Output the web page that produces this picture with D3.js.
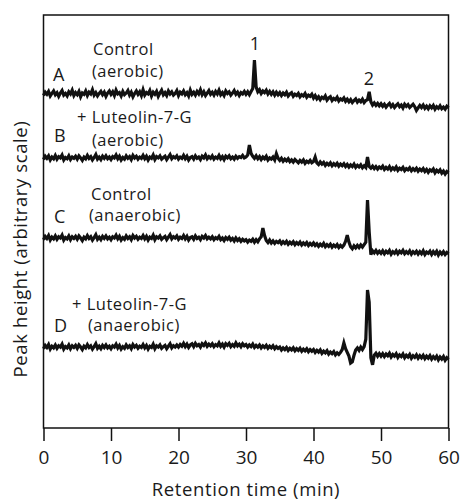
<!DOCTYPE html>
<html>
<head>
<meta charset="utf-8">
<script src="https://cdn.jsdelivr.net/npm/d3@7"></script>
<style>
body { margin: 0; background: #fff; }
text { font-family: "Open Sans", "DejaVu Sans", sans-serif; fill: #1a1a1a; }
</style>
</head>
<body>
<script>
// retention time sampled every 0.25 min, 0..60
var times = d3.range(0, 60.25, 0.25);
var xTicks = [0, 10, 20, 30, 40, 50, 60];

// peak height, arbitrary units (traces stacked), one row = 5 min
var traceA = [
  80.5, 81.3, 80.8, 81.5, 80.4, 81.0, 81.6, 80.7, 81.2, 80.3, 81.1, 81.7, 80.6, 81.0, 80.4, 81.4, 80.9, 81.8, 80.5, 81.2,
  80.7, 81.5, 80.2, 81.1, 80.8, 81.6, 80.5, 81.3, 80.9, 81.9, 80.6, 81.2, 80.4, 81.0, 81.5, 80.7, 81.3, 80.3, 81.1, 81.6,
  80.8, 81.4, 80.5, 81.8, 80.9, 81.2, 80.4, 81.5, 80.7, 81.1, 81.7, 80.6, 81.3, 80.2, 81.0, 81.6, 80.8, 81.4, 80.5, 81.9,
  80.6, 81.2, 80.9, 81.7, 80.4, 81.3, 80.8, 81.5, 80.3, 81.1, 81.8, 80.7, 81.2, 80.5, 81.6, 80.9, 81.4, 80.6, 81.0, 81.7,
  80.5, 81.3, 80.9, 81.6, 80.7, 81.2, 80.4, 81.8, 80.8, 81.3, 80.6, 81.5, 80.9, 81.9, 80.7, 81.4, 80.5, 81.1, 81.7, 80.8,
  81.3, 80.6, 81.5, 80.9, 81.8, 80.7, 81.2, 80.5, 81.6, 81.0, 81.4, 80.6, 81.1, 81.7, 80.8, 81.3, 80.5, 81.2, 80.9, 81.5,
  80.8, 81.4, 80.7, 81.5, 82.2, 89.1, 82.6, 81.4, 81.9, 81.0, 81.6, 81.2, 81.8, 80.9, 81.5, 80.8, 81.4, 80.6, 81.3, 80.7,
  81.2, 80.5, 81.1, 80.7, 81.3, 80.4, 80.9, 81.2, 80.3, 80.8, 80.5, 81.0, 80.2, 80.7, 80.4, 81.0, 80.1, 80.6, 80.3, 80.8,
  79.9, 80.5, 79.7, 80.2, 79.5, 80.1, 79.8, 80.4, 79.4, 79.9, 80.2, 79.3, 79.8, 79.5, 80.1, 79.2, 79.7, 79.4, 79.9, 79.1,
  79.6, 79.0, 79.5, 78.8, 79.3, 79.7, 78.9, 79.4, 79.0, 79.6, 78.8, 79.3, 79.5, 81.4, 79.0, 78.2, 78.7, 78.1, 78.6, 78.0,
  78.5, 77.9, 78.4, 77.7, 78.2, 78.6, 77.8, 78.3, 77.6, 78.1, 78.5, 77.8, 78.2, 77.5, 78.4, 77.9, 78.3, 77.6, 78.0, 78.4,
  77.8, 76.9, 77.5, 78.1, 77.6, 78.2, 77.4, 77.9, 77.3, 78.0, 77.5, 78.1, 77.2, 77.8, 77.4, 78.0, 77.3, 77.7, 77.2, 77.9,
  77.5
];
var traceB = [
  65.0, 65.8, 65.3, 65.9, 64.9, 65.6, 65.2, 66.0, 65.1, 65.7, 65.4, 66.1, 64.9, 65.5, 65.2, 65.9, 65.0, 65.6, 65.3, 65.8,
  65.1, 65.9, 65.4, 64.8, 65.6, 65.2, 66.0, 65.3, 65.7, 64.9, 65.5, 66.2, 65.1, 65.6, 65.0, 65.8, 65.3, 65.9, 65.2, 65.6,
  65.0, 65.7, 65.4, 66.1, 65.2, 65.8, 64.9, 65.5, 65.1, 65.9, 65.3, 65.7, 65.0, 66.0, 65.4, 65.8, 65.1, 65.6, 65.3, 66.0,
  65.2, 65.8, 64.9, 65.6, 65.3, 66.1, 65.0, 65.7, 65.4, 65.9, 65.1, 65.5, 65.8, 65.0, 65.6, 66.2, 65.2, 65.7, 65.4, 65.9,
  65.1, 65.6, 65.3, 66.0, 65.2, 65.8, 64.9, 65.5, 65.7, 65.1, 65.9, 65.3, 65.6, 65.0, 65.8, 65.4, 66.1, 65.2, 65.7, 65.3,
  65.9, 65.1, 65.6, 65.3, 66.0, 65.2, 65.7, 65.0, 65.8, 65.4, 65.9, 65.2, 65.6, 65.1, 65.8, 65.3, 65.7, 65.5, 66.0, 65.4,
  65.6, 66.1, 68.5, 66.5, 65.8, 65.3, 65.9, 65.2, 65.7, 65.0, 65.6, 65.2, 65.8, 64.9, 65.4, 65.1, 65.6, 64.9, 66.4, 65.3,
  64.8, 65.3, 64.6, 65.1, 64.7, 65.2, 64.5, 64.9, 64.4, 65.0, 64.6, 64.2, 64.8, 64.4, 64.9, 64.1, 64.6, 64.3, 64.8, 64.2,
  64.5, 65.6, 64.2, 63.8, 64.4, 63.9, 64.3, 63.6, 64.1, 63.7, 64.2, 63.5, 64.0, 63.6, 64.1, 63.4, 63.9, 63.5, 64.0, 63.3,
  63.8, 63.2, 63.7, 63.3, 63.9, 63.1, 63.6, 63.2, 63.7, 63.0, 63.5, 63.1, 65.6, 63.3, 62.9, 63.4, 62.8, 63.3, 62.7, 63.2,
  62.9, 63.4, 62.6, 63.1, 62.7, 63.3, 62.5, 63.0, 62.6, 63.2, 62.4, 62.9, 62.6, 63.1, 62.3, 62.8, 62.5, 63.0, 62.3, 62.8,
  62.4, 62.9, 62.2, 62.7, 62.3, 62.8, 62.1, 62.6, 61.9, 62.5, 62.2, 62.7, 61.8, 62.4, 62.0, 62.5, 61.7, 62.2, 61.5, 62.1,
  61.8
];
var traceC = [
  45.6, 46.4, 45.9, 46.6, 45.5, 46.2, 45.8, 46.5, 45.7, 46.3, 46.0, 46.7, 45.5, 46.1, 45.8, 46.5, 45.6, 46.3, 45.9, 46.4,
  45.7, 46.5, 46.0, 45.4, 46.2, 45.8, 46.6, 45.9, 46.3, 45.5, 46.1, 46.8, 45.7, 46.2, 45.6, 46.4, 45.9, 46.5, 45.8, 46.2,
  45.6, 46.3, 46.0, 46.7, 45.8, 46.4, 45.5, 46.1, 45.7, 46.5, 45.9, 46.3, 45.6, 46.6, 46.0, 46.4, 45.7, 46.2, 45.9, 46.6,
  45.8, 46.4, 45.5, 46.2, 45.9, 46.7, 45.6, 46.3, 46.0, 46.5, 45.7, 46.1, 46.4, 45.6, 46.2, 46.8, 45.8, 46.3, 46.0, 46.5,
  45.7, 46.2, 45.9, 46.6, 45.8, 46.4, 45.5, 46.1, 46.3, 45.7, 46.5, 45.9, 46.2, 45.6, 46.4, 46.0, 46.6, 45.8, 46.2, 45.8,
  46.3, 45.6, 46.1, 45.8, 46.4, 45.6, 46.0, 45.4, 46.1, 45.7, 46.2, 45.5, 45.9, 45.3, 46.0, 45.4, 45.8, 45.2, 45.7, 45.3,
  45.6, 45.0, 45.5, 45.2, 45.7, 45.0, 45.6, 45.1, 45.8, 46.3, 48.4, 46.6, 45.4, 44.9, 45.5, 44.8, 45.3, 44.7, 45.2, 44.9,
  45.3, 44.6, 45.1, 44.7, 45.2, 44.5, 45.0, 44.6, 45.1, 44.4, 44.9, 44.5, 45.0, 44.3, 44.8, 44.4, 44.9, 44.2, 44.7, 44.3,
  44.8, 44.2, 44.6, 44.0, 44.5, 44.1, 44.7, 43.9, 44.4, 44.0, 44.5, 43.8, 44.3, 43.9, 44.4, 43.7, 44.2, 43.8, 44.3, 45.2,
  46.7, 45.0, 43.9, 43.4, 44.1, 43.6, 44.2, 43.7, 44.3, 43.8, 44.4, 45.0, 55.2, 47.5, 42.0, 42.9, 42.4, 43.0, 42.3, 42.8,
  42.3, 42.9, 42.2, 42.8, 42.4, 43.0, 42.1, 42.7, 42.3, 42.9, 42.2, 42.8, 42.4, 43.0, 42.2, 42.7, 42.3, 42.9, 42.1, 42.7,
  42.3, 42.8, 42.1, 42.7, 42.2, 42.9, 42.0, 42.6, 42.3, 42.8, 42.0, 42.7, 42.2, 42.8, 41.9, 42.6, 42.1, 42.7, 42.0, 42.5,
  42.2
];
var traceD = [
  19.2, 20.0, 19.5, 20.2, 19.1, 19.8, 19.4, 20.1, 19.3, 19.9, 19.6, 20.3, 19.1, 19.7, 19.4, 20.1, 19.2, 19.9, 19.5, 20.0,
  19.3, 20.1, 19.6, 19.0, 19.8, 19.4, 20.2, 19.5, 19.9, 19.1, 19.7, 20.4, 19.3, 19.8, 19.2, 20.0, 19.5, 20.1, 19.4, 19.8,
  19.2, 19.9, 19.6, 20.3, 19.4, 20.0, 19.1, 19.7, 19.3, 20.1, 19.5, 19.9, 19.2, 20.2, 19.6, 20.0, 19.3, 19.8, 19.5, 20.2,
  19.4, 20.0, 19.1, 19.8, 19.5, 20.3, 19.2, 19.9, 19.6, 20.1, 19.3, 19.7, 20.0, 19.2, 19.8, 20.4, 19.4, 19.9, 19.6, 20.1,
  19.6, 20.2, 19.8, 20.5, 19.7, 20.3, 19.5, 20.1, 20.4, 19.7, 20.5, 19.9, 20.2, 19.6, 20.4, 20.0, 20.6, 19.8, 20.3, 19.9,
  20.4, 19.7, 20.2, 19.9, 20.6, 19.8, 20.3, 19.6, 20.4, 20.0, 20.5, 19.7, 20.2, 19.8, 20.6, 19.9, 20.3, 19.7, 20.4, 19.9,
  20.2, 19.6, 20.1, 19.7, 20.3, 19.5, 20.0, 19.6, 20.1, 19.4, 19.9, 19.5, 20.0, 19.3, 19.8, 19.4, 19.9, 19.2, 19.7, 19.3,
  19.6, 18.9, 19.4, 19.0, 19.5, 18.8, 19.3, 18.9, 19.4, 18.7, 19.2, 18.8, 19.3, 18.6, 19.1, 18.7, 19.2, 18.5, 19.0, 18.6,
  19.0, 18.3, 18.8, 18.4, 18.9, 18.1, 18.6, 18.2, 18.7, 17.9, 18.4, 18.0, 18.5, 17.7, 18.2, 17.8, 18.3, 19.0, 20.6, 19.2,
  18.3, 17.4, 15.7, 16.0, 17.6, 18.9, 19.4, 18.8, 19.6, 19.0, 19.7, 21.5, 33.4, 30.5, 17.0, 15.3, 17.6, 18.1, 17.4, 18.0,
  17.4, 18.0, 17.3, 17.9, 17.5, 18.1, 17.2, 17.8, 17.4, 18.0, 17.1, 17.7, 17.3, 17.9, 17.0, 17.6, 17.2, 17.8, 16.9, 17.5,
  17.1, 17.7, 16.9, 17.5, 17.0, 17.6, 16.8, 17.4, 16.9, 17.5, 16.7, 17.3, 16.8, 17.4, 16.5, 17.2, 16.7, 17.3, 16.4, 17.0,
  16.6
];

var W = 461, H = 501;
var margin = {top: 15, right: 12.5, bottom: 73, left: 43.5};

var svg = d3.select('body').append('svg')
    .attr('width', W)
    .attr('height', H);

var x = d3.scaleLinear().domain([0, 60]).range([margin.left, W - margin.right]);
var y = d3.scaleLinear().domain([0, 100]).range([H - margin.bottom, margin.top]);

// frame
svg.append('rect')
    .attr('x', x(0))
    .attr('y', y(100))
    .attr('width', x(60) - x(0))
    .attr('height', y(0) - y(100))
    .attr('fill', 'none')
    .attr('stroke', '#111')
    .attr('stroke-width', 1.5);

var xAxis = svg.append('g')
    .attr('transform', 'translate(0,' + y(0) + ')')
    .call(d3.axisBottom(x).tickValues(xTicks).tickSize(13).tickPadding(10));
xAxis.select('.domain').remove();
xAxis.selectAll('.tick line').attr('stroke', '#111').attr('stroke-width', 1.5);
xAxis.selectAll('.tick text')
    .attr('font-size', 19)
    .attr('font-family', '"Open Sans", sans-serif')
    .attr('fill', '#1a1a1a');

svg.append('text')
    .attr('x', (x(0) + x(60)) / 2)
    .attr('y', 496)
    .attr('text-anchor', 'middle')
    .attr('font-size', 18.5)
    .attr('letter-spacing', 0.6)
    .text('Retention time (min)');

svg.append('text')
    .attr('transform', 'translate(27,249) rotate(-90)')
    .attr('text-anchor', 'middle')
    .attr('font-size', 18.5)
    .attr('letter-spacing', 0.6)
    .text('Peak height (arbitrary scale)');

var line = d3.line()
    .x(function(d, i) { return x(times[i]); })
    .y(function(d) { return y(d); });

[traceA, traceB, traceC, traceD].forEach(function(tr) {
  svg.append('path')
      .datum(tr)
      .attr('d', line)
      .attr('fill', 'none')
      .attr('stroke', '#111')
      .attr('stroke-width', 3.2);
});

// trace labels
var labels = [
  ['Control', 93, 55], ['(aerobic)', 92, 77],
  ['+ Luteolin-7-G', 77, 123], ['(aerobic)', 92, 146],
  ['Control', 91, 200], ['(anaerobic)', 89, 221],
  ['+ Luteolin-7-G', 72, 310], ['(anaerobic)', 88, 331]
];
svg.selectAll('.lab').data(labels).enter().append('text')
    .attr('class', 'lab')
    .attr('x', function(d) { return d[1]; })
    .attr('y', function(d) { return d[2]; })
    .attr('font-size', 16.5)
    .attr('letter-spacing', 0.5)
    .text(function(d) { return d[0]; });

var letters = [['A', 53, 81], ['B', 54, 142], ['C', 54, 223], ['D', 54, 332]];
svg.selectAll('.let').data(letters).enter().append('text')
    .attr('class', 'let')
    .attr('x', function(d) { return d[1]; })
    .attr('y', function(d) { return d[2]; })
    .attr('font-size', 18)
    .text(function(d) { return d[0]; });

// peak numbers
svg.append('text').attr('x', x(31.3)).attr('y', 50)
    .attr('text-anchor', 'middle').attr('font-size', 18).text('1');
svg.append('text').attr('x', x(48.2)).attr('y', 85)
    .attr('text-anchor', 'middle').attr('font-size', 18).text('2');
</script>
</body>
</html>
